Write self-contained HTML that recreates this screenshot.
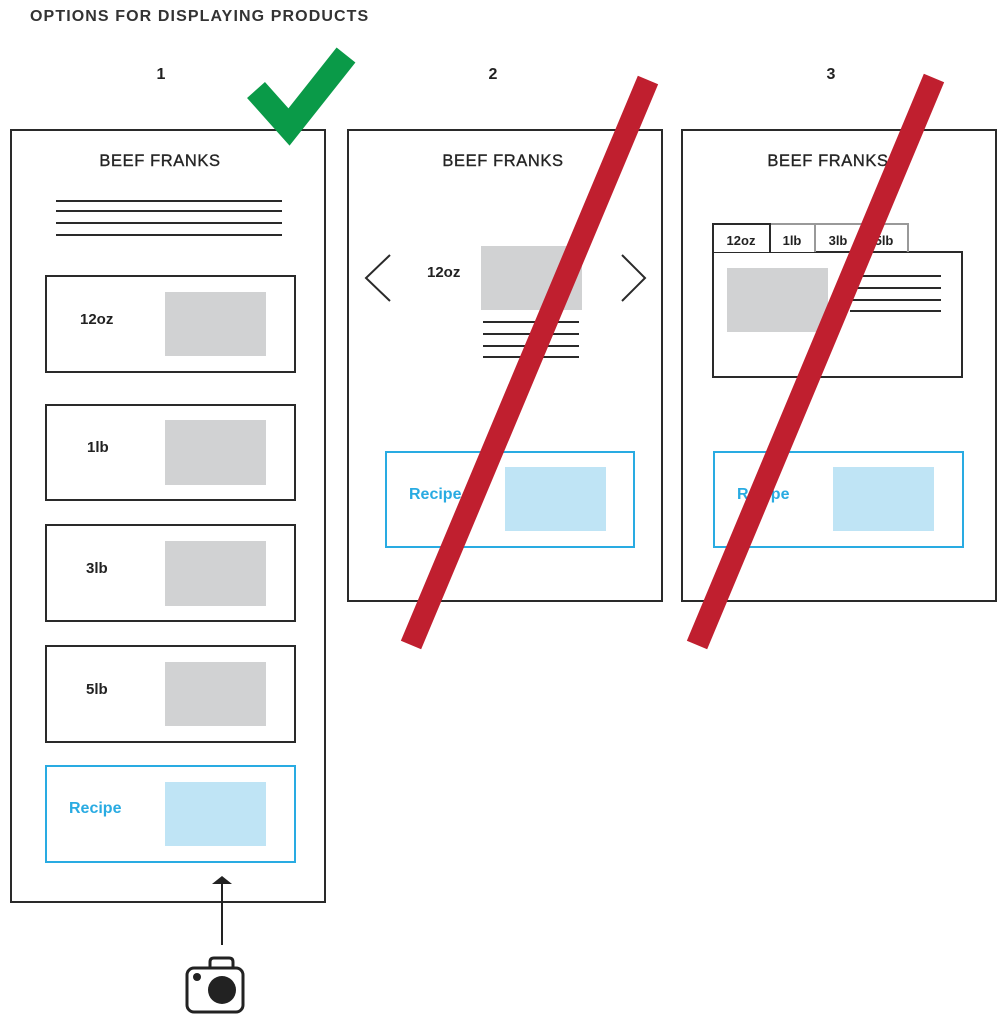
<!DOCTYPE html>
<html><head><style>body{margin:0;background:#fff}svg{display:block}text{font-family:"Liberation Sans",sans-serif;fill:#222}</style></head><body>
<svg width="1008" height="1024" viewBox="0 0 1008 1024" xmlns="http://www.w3.org/2000/svg">
<text x="30" y="21" font-size="16" font-weight="bold" letter-spacing="1.1" style="fill:#333">OPTIONS FOR DISPLAYING PRODUCTS</text>
<g font-size="16" font-weight="bold" text-anchor="middle" style="fill:#333"><text x="161" y="79">1</text><text x="493" y="79">2</text><text x="831" y="79">3</text></g>
<g fill="none" stroke="#2a2a2a" stroke-width="2">
<rect x="11" y="130" width="314" height="772"/>
<rect x="348" y="130" width="314" height="471"/>
<rect x="682" y="130" width="314" height="471"/>
<path d="M56 201H282M56 211H282M56 223H282M56 235H282"/>
<rect x="46" y="276" width="249" height="96"/>
<rect x="46" y="405" width="249" height="95"/>
<rect x="46" y="525" width="249" height="96"/>
<rect x="46" y="646" width="249" height="96"/>
<path d="M390 255L366 278L390 301M622 255L645 278L622 301"/>
<path d="M483 322H579M483 334H579M483 346H579M483 357H579"/>
<path d="M850 276H941M850 288H941M850 300H941M850 311H941"/>
<rect x="713" y="252" width="249" height="125"/>
</g>
<g fill="#d1d2d3">
<rect x="165" y="292" width="101" height="64"/><rect x="165" y="420" width="101" height="65"/>
<rect x="165" y="541" width="101" height="65"/><rect x="165" y="662" width="101" height="64"/>
<rect x="481" y="246" width="101" height="64"/><rect x="727" y="268" width="101" height="64"/>
</g>
<g fill="#bfe4f5"><rect x="165" y="782" width="101" height="64"/><rect x="505" y="467" width="101" height="64"/><rect x="833" y="467" width="101" height="64"/></g>
<g fill="none" stroke="#29abe2" stroke-width="2">
<rect x="46" y="766" width="249" height="96"/><rect x="386" y="452" width="248" height="95"/><rect x="714" y="452" width="249" height="95"/>
</g>
<g fill="#fff" stroke="#999" stroke-width="2"><path d="M770 252V224H815V252M815 224H862V252M862 224H908V252"/></g>
<path d="M713 252V224H770V252" fill="#fff" stroke="#2a2a2a" stroke-width="2"/>
<g font-size="16.5" text-anchor="middle" letter-spacing="0.6" style="fill:#333;stroke:#333;stroke-width:0.4"><text x="160" y="166">BEEF FRANKS</text><text x="503" y="166">BEEF FRANKS</text><text x="828" y="166">BEEF FRANKS</text></g>
<g font-size="15" font-weight="bold"><text x="80" y="324">12oz</text><text x="87" y="452">1lb</text><text x="86" y="573">3lb</text><text x="86" y="694">5lb</text><text x="427" y="277">12oz</text></g>
<g font-size="13" font-weight="bold" text-anchor="middle"><text x="741" y="245">12oz</text><text x="792" y="245">1lb</text><text x="838" y="245">3lb</text><text x="884" y="245">5lb</text></g>
<g font-size="16" font-weight="bold"><text x="69" y="813" style="fill:#29abe2">Recipe</text><text x="409" y="499" style="fill:#29abe2">Recipe</text><text x="737" y="499" style="fill:#29abe2">Recipe</text></g>
<polyline points="256,90 289,127 346,55" fill="none" stroke="#0a9a48" stroke-width="24"/>
<g stroke="#c01f2f" stroke-width="22"><line x1="648" y1="80" x2="411" y2="645"/><line x1="934" y1="78" x2="697" y2="645"/></g>
<line x1="222" y1="884" x2="222" y2="945" stroke="#222" stroke-width="2"/>
<path d="M212 884L222 876L232 884Z" fill="#222"/>
<g fill="none" stroke="#222" stroke-width="3"><rect x="187" y="968" width="56" height="44" rx="7"/><path d="M210 968V962Q210 958 214 958H229Q233 958 233 962V968"/></g>
<circle cx="222" cy="990" r="14" fill="#222"/><circle cx="197" cy="977" r="4" fill="#222"/>
</svg>
</body></html>
